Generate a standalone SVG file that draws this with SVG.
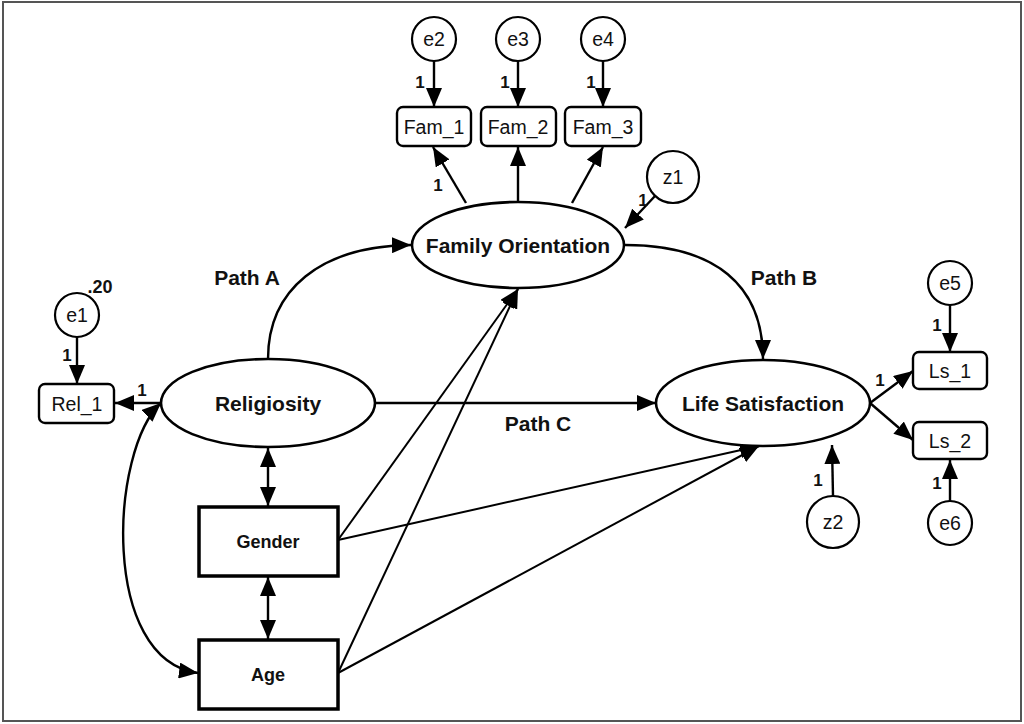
<svg xmlns="http://www.w3.org/2000/svg" width="1024" height="724" viewBox="0 0 1024 724">
<style>
.frame{fill:#fff;stroke:#555;stroke-width:2}
.lat{fill:#fff;stroke:#000;stroke-width:2.6}
.obs{fill:#fff;stroke:#000;stroke-width:2.4}
.exo{fill:#fff;stroke:#000;stroke-width:3.5}
.err{fill:#fff;stroke:#000;stroke-width:2.2}
.c{fill:none;stroke:#000;stroke-width:2.4}
.t{fill:none;stroke:#000;stroke-width:2}
.big{font-family:"Liberation Sans",Arial,sans-serif;font-weight:bold;font-size:21px;text-anchor:middle;fill:#111}
.mid{font-family:"Liberation Sans",Arial,sans-serif;font-weight:bold;font-size:18px;text-anchor:middle;fill:#111}
.reg{font-family:"Liberation Sans",Arial,sans-serif;font-size:19.5px;text-anchor:middle;fill:#111}
.one{font-family:"Liberation Sans",Arial,sans-serif;font-weight:bold;font-size:17px;text-anchor:middle;fill:#111}
</style>
<defs>
<marker id="ah" viewBox="0 0 19 16" refX="19" refY="8" markerWidth="19" markerHeight="16" markerUnits="userSpaceOnUse" orient="auto-start-reverse">
<path d="M0 0 L19 8 L0 16 z" fill="#000"/>
</marker>
</defs>
<rect class="frame" x="3" y="2" width="1018" height="719"/>

<g id="connectors">
<line class="c" x1="434" y1="61" x2="434" y2="107" marker-end="url(#ah)"/>
<line class="c" x1="518" y1="61" x2="518" y2="107" marker-end="url(#ah)"/>
<line class="c" x1="603" y1="61" x2="603" y2="107" marker-end="url(#ah)"/>
<line class="c" x1="466" y1="203" x2="433" y2="147" marker-end="url(#ah)"/>
<line class="c" x1="518" y1="202" x2="518" y2="147" marker-end="url(#ah)"/>
<line class="c" x1="572" y1="203" x2="603" y2="147" marker-end="url(#ah)"/>
<line class="c" x1="655" y1="196" x2="625" y2="228" marker-end="url(#ah)"/>
<path class="c" d="M268 359 C268 290 320 246 411 245" marker-end="url(#ah)"/>
<path class="c" d="M625 245 C715 245 763 285 763 359" marker-end="url(#ah)"/>
<line class="c" x1="375" y1="403" x2="656" y2="403" marker-end="url(#ah)"/>
<line class="c" x1="77" y1="337" x2="77" y2="384" marker-end="url(#ah)"/>
<line class="c" x1="161" y1="403" x2="115" y2="403" marker-end="url(#ah)"/>
<path class="c" d="M161 403 C110 450 100 660 198 673" marker-start="url(#ah)" marker-end="url(#ah)"/>
<line class="c" x1="268" y1="448" x2="268" y2="506" marker-start="url(#ah)" marker-end="url(#ah)"/>
<line class="c" x1="268" y1="577" x2="268" y2="639" marker-start="url(#ah)" marker-end="url(#ah)"/>
<line class="t" x1="338" y1="540" x2="518" y2="289" marker-end="url(#ah)"/>
<line class="t" x1="338" y1="673" x2="518" y2="289" marker-end="url(#ah)"/>
<line class="t" x1="338" y1="540" x2="759" y2="446" marker-end="url(#ah)"/>
<line class="t" x1="338" y1="673" x2="759" y2="446" marker-end="url(#ah)"/>
<line class="c" x1="833" y1="496" x2="832" y2="445" marker-end="url(#ah)"/>
<line class="c" x1="870" y1="403" x2="913" y2="371" marker-end="url(#ah)"/>
<line class="c" x1="870" y1="403" x2="913" y2="440" marker-end="url(#ah)"/>
<line class="c" x1="950" y1="305" x2="950" y2="352" marker-end="url(#ah)"/>
<line class="c" x1="950" y1="501" x2="950" y2="460" marker-end="url(#ah)"/>
<text class="one" x="420" y="88">1</text>
<text class="one" x="505" y="88">1</text>
<text class="one" x="591" y="88">1</text>
<text class="one" x="438" y="191">1</text>
<text class="one" x="643" y="206">1</text>
<text class="one" x="67" y="361">1</text>
<text class="one" x="142" y="396">1</text>
<text class="one" x="880" y="386">1</text>
<text class="one" x="937" y="331">1</text>
<text class="one" x="937" y="489">1</text>
<text class="one" x="818" y="486">1</text>
<text class="big" x="247" y="285">Path A</text>
<text class="big" x="784" y="285">Path B</text>
<text class="big" x="538" y="431">Path C</text>
</g>

<g id="e2"><circle class="err" cx="434" cy="39" r="22"/><text class="reg" x="434" y="46">e2</text></g>
<g id="e3"><circle class="err" cx="518" cy="39" r="22"/><text class="reg" x="518" y="46">e3</text></g>
<g id="e4"><circle class="err" cx="603" cy="39" r="22"/><text class="reg" x="603" y="46">e4</text></g>
<g id="Fam_1"><rect class="obs" x="397" y="107" width="74" height="39" rx="6"/><text class="reg" x="434" y="134">Fam_1</text></g>
<g id="Fam_2"><rect class="obs" x="481" y="107" width="75" height="39" rx="6"/><text class="reg" x="518" y="134">Fam_2</text></g>
<g id="Fam_3"><rect class="obs" x="565" y="107" width="76" height="39" rx="6"/><text class="reg" x="603" y="134">Fam_3</text></g>
<g id="z1"><circle class="err" cx="673" cy="177" r="26"/><text class="reg" x="673" y="184">z1</text></g>
<g id="FamilyOrientation"><ellipse class="lat" cx="518" cy="245" rx="106" ry="43"/><text class="big" x="518" y="253">Family Orientation</text></g>
<g id="e1"><circle class="err" cx="77" cy="315" r="22"/><text class="reg" x="77" y="322">e1</text><text class="mid" x="100" y="293">.20</text></g>
<g id="Rel_1"><rect class="obs" x="39" y="384" width="75" height="39" rx="6"/><text class="reg" x="77" y="411">Rel_1</text></g>
<g id="Religiosity"><ellipse class="lat" cx="268" cy="403" rx="107" ry="44"/><text class="big" x="268" y="411">Religiosity</text></g>
<g id="LifeSatisfaction"><ellipse class="lat" cx="763" cy="403" rx="107" ry="43"/><text class="big" x="763" y="411">Life Satisfaction</text></g>
<g id="Gender"><rect class="exo" x="199" y="507" width="139" height="69"/><text class="mid" x="268" y="548">Gender</text></g>
<g id="Age"><rect class="exo" x="199" y="640" width="139" height="69"/><text class="mid" x="268" y="681">Age</text></g>
<g id="e5"><circle class="err" cx="950" cy="283" r="22"/><text class="reg" x="950" y="290">e5</text></g>
<g id="Ls_1"><rect class="obs" x="913" y="352" width="74" height="37" rx="6"/><text class="reg" x="950" y="378">Ls_1</text></g>
<g id="Ls_2"><rect class="obs" x="913" y="422" width="74" height="37" rx="6"/><text class="reg" x="950" y="448">Ls_2</text></g>
<g id="e6"><circle class="err" cx="950" cy="523" r="22"/><text class="reg" x="950" y="530">e6</text></g>
<g id="z2"><circle class="err" cx="833" cy="522" r="26"/><text class="reg" x="833" y="529">z2</text></g>
</svg>
